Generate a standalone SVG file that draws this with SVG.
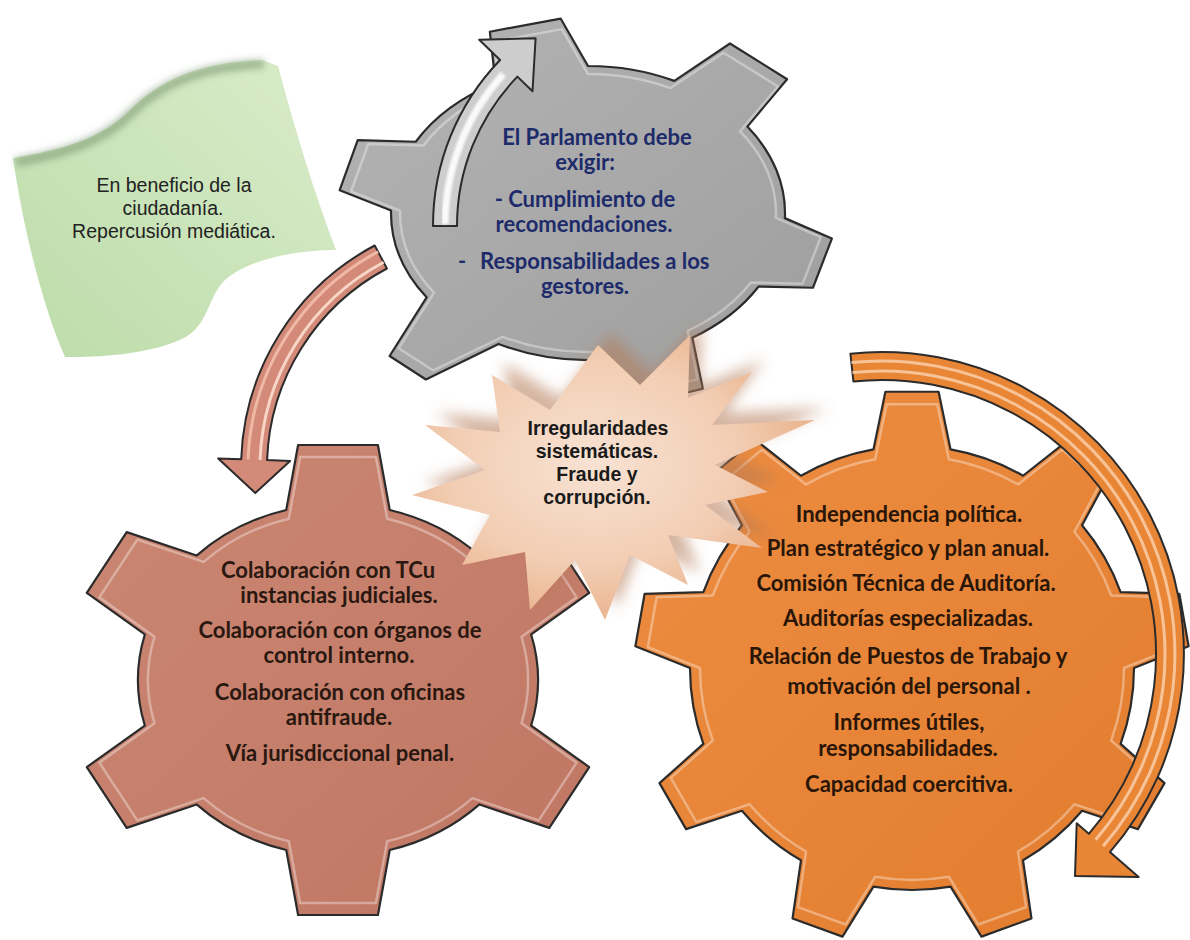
<svg xmlns="http://www.w3.org/2000/svg" xmlns:xlink="http://www.w3.org/1999/xlink" width="1190" height="940" viewBox="0 0 1190 940">
  <style>
    .gear { stroke: #2b2b2b; stroke-width: 2.2; stroke-linejoin: round; }
    .bevel { fill: none; stroke: #ffffff; stroke-width: 2.5; stroke-opacity: 0.35; stroke-linejoin: round; }
    .arrow { stroke: #2b2b2b; stroke-width: 2; stroke-linejoin: round; }
    .stripe { fill: none; stroke-linecap: butt; }
    .gt { font-family: Lato, "Open Sans", "DejaVu Sans", sans-serif; font-weight: 700; font-size: 22px; text-anchor: middle; fill: #1d2b6b; }
    .st { font-family: Lato, "Open Sans", "DejaVu Sans", sans-serif; font-weight: 700; font-size: 22px; text-anchor: middle; fill: #2a1810; }
    .ot { font-family: Lato, "Open Sans", "DejaVu Sans", sans-serif; font-weight: 700; font-size: 22px; text-anchor: middle; fill: #2a1608; }
    .bt { font-family: "Liberation Sans", Arial, sans-serif; font-weight: 700; font-size: 19.5px; text-anchor: middle; fill: #1a1a1a; }
    .ft { font-family: "Liberation Sans", Arial, sans-serif; font-size: 19.5px; text-anchor: middle; fill: #222222; }
  </style>
  <defs>
    <filter id="soft1" x="-5%" y="-5%" width="110%" height="110%"><feGaussianBlur stdDeviation="0.8"/></filter>
    <filter id="blur6" x="-20%" y="-20%" width="140%" height="140%"><feGaussianBlur stdDeviation="7"/></filter>
    <filter id="blur3" x="-20%" y="-20%" width="140%" height="140%"><feGaussianBlur stdDeviation="3.5"/></filter>
    <linearGradient id="fillGray" x1="0" y1="0" x2="1" y2="1">
      <stop offset="0" stop-color="#b4b4b4"/><stop offset="1" stop-color="#9d9d9d"/>
    </linearGradient>
    <linearGradient id="fillSalmon" x1="0" y1="0" x2="1" y2="1">
      <stop offset="0" stop-color="#cb8773"/><stop offset="1" stop-color="#bf7663"/>
    </linearGradient>
    <linearGradient id="fillOrange" x1="0" y1="0" x2="1" y2="1">
      <stop offset="0" stop-color="#ed8d42"/><stop offset="1" stop-color="#e27c2d"/>
    </linearGradient>
    <linearGradient id="fillFlag" x1="1" y1="0" x2="0" y2="1">
      <stop offset="0" stop-color="#d9ecca"/><stop offset="1" stop-color="#bddcaa"/>
    </linearGradient>
    <radialGradient id="fillBurst" cx="0.45" cy="0.45" r="0.6">
      <stop offset="0" stop-color="#f8e2d3"/><stop offset="0.6" stop-color="#f2cdb3"/><stop offset="1" stop-color="#e9ae86"/>
    </radialGradient>
    <!-- unit gear outlines: body radius 1, teeth outward -->
    <path id="gearGrayShape" vector-effect="non-scaling-stroke" d="M -0.4695 -0.8829 L -0.4982 -1.2332 L -0.139 -1.3227 L 0 -1 A 1 1 0 0 1 0.4384 -0.8988 L 0.7207 -1.1533 L 1.0106 -0.91 L 0.809 -0.5878 A 1 1 0 0 1 0.9994 0.0349 L 1.2379 0.174 L 1.1419 0.5084 L 0.866 0.5 A 1 1 0 0 1 0.5299 0.848 L 0.5831 1.1954 L 0.2309 1.3098 L 0.0698 0.9976 A 1 1 0 0 1 -0.454 0.891 L -0.8229 1.1326 L -1.007 0.9726 L -0.8192 0.5736 A 1 1 0 0 1 -0.9998 -0.0175 L -1.2605 -0.1548 L -1.169 -0.4962 L -0.8746 -0.4848 A 1 1 0 0 1 -0.4695 -0.8829 Z"/>
    <path id="gearSalmonShape" vector-effect="non-scaling-stroke" d="M -0.2588 -0.9659 L -0.1995 -1.3352 L 0.1995 -1.3352 L 0.2588 -0.9659 A 1 1 0 0 1 0.7071 -0.7071 L 1.0565 -0.8404 L 1.256 -0.4948 L 0.9659 -0.2588 A 1 1 0 0 1 0.9659 0.2588 L 1.256 0.4948 L 1.0565 0.8404 L 0.7071 0.7071 A 1 1 0 0 1 0.2588 0.9659 L 0.1995 1.3352 L -0.1995 1.3352 L -0.2588 0.9659 A 1 1 0 0 1 -0.7071 0.7071 L -1.0565 0.8404 L -1.256 0.4948 L -0.9659 0.2588 A 1 1 0 0 1 -0.9659 -0.2588 L -1.256 -0.4948 L -1.0565 -0.8404 L -0.7071 -0.7071 A 1 1 0 0 1 -0.2588 -0.9659 Z"/>
    <path id="gearOrangeShape" vector-effect="non-scaling-stroke" d="M -0.1736 -0.9848 L -0.1198 -1.2443 L 0.1198 -1.2443 L 0.1736 -0.9848 A 1 1 0 0 1 0.5 -0.866 L 0.708 -1.0301 L 0.8916 -0.8761 L 0.766 -0.6428 A 1 1 0 0 1 0.9397 -0.342 L 1.2045 -0.334 L 1.2461 -0.0981 L 1 0 A 1 1 0 0 1 0.9397 0.342 L 1.1375 0.5184 L 1.0176 0.7259 L 0.766 0.6428 A 1 1 0 0 1 0.5 0.866 L 0.5381 1.1283 L 0.313 1.2101 L 0.1736 0.9848 A 1 1 0 0 1 -0.1736 0.9848 L -0.313 1.2101 L -0.5381 1.1283 L -0.5 0.866 A 1 1 0 0 1 -0.766 0.6428 L -1.0176 0.7259 L -1.1375 0.5184 L -0.9397 0.342 A 1 1 0 0 1 -1 0 L -1.2461 -0.0981 L -1.2045 -0.334 L -0.9397 -0.342 A 1 1 0 0 1 -0.766 -0.6428 L -0.8916 -0.8761 L -0.708 -1.0301 L -0.5 -0.866 A 1 1 0 0 1 -0.1736 -0.9848 Z"/>
  </defs>

  <rect x="0" y="0" width="1190" height="940" fill="#ffffff"/>

  <!-- green banner -->
  <g id="node-ciudadania">
    <path d="M 13 158 C 60 150, 100 140, 130 110 C 160 80, 200 62, 262 60 L 278 66 C 295 130, 315 195, 336 250 C 300 250, 250 258, 225 280 C 205 300, 210 330, 175 342 C 140 355, 100 357, 65 357 C 40 300, 22 220, 13 158 Z" fill="url(#fillFlag)"/>
    <path d="M 16 162 C 60 154, 100 144, 130 114 C 160 84, 200 66, 264 64" fill="none" stroke="#6f8a66" stroke-width="9" stroke-opacity="0.55" filter="url(#blur3)"/>
    <text class="ft" x="174" y="192">En beneficio de la</text>
    <text class="ft" x="173" y="215">ciudadanía.</text>
    <text class="ft" x="174" y="238">Repercusión mediática.</text>
  </g>

  <!-- grey gear: Parliament -->
  <g id="node-parlamento">
    <use href="#gearGrayShape" class="gear" fill="url(#fillGray)" transform="translate(588 213) scale(197 147)"/>
    <use href="#gearGrayShape" class="bevel" transform="translate(588 213) scale(188 139)"/>
    <text class="gt" x="597" y="145">El Parlamento debe</text>
    <text class="gt" x="585" y="170">exigir:</text>
    <text class="gt" x="585" y="207">- Cumplimiento de</text>
    <text class="gt" x="584" y="232">recomendaciones.</text>
    <text class="gt" y="269" style="text-anchor:start"><tspan x="458">-</tspan><tspan x="480">Responsabilidades a los</tspan></text>
    <text class="gt" x="585" y="294">gestores.</text>
  </g>

  <!-- salmon gear: collaboration -->
  <g id="node-colaboracion">
    <use href="#gearSalmonShape" class="gear" fill="url(#fillSalmon)" transform="translate(338 680) scale(200 176)"/>
    <use href="#gearSalmonShape" class="bevel" transform="translate(338 680) scale(190 167)"/>
    <text class="st" x="328" y="578">Colaboración con TCu</text>
    <text class="st" x="339" y="603">instancias judiciales.</text>
    <text class="st" x="340" y="638">Colaboración con órganos de</text>
    <text class="st" x="339" y="663">control interno.</text>
    <text class="st" x="340" y="700">Colaboración con oficinas</text>
    <text class="st" x="339" y="725">antifraude.</text>
    <text class="st" x="340" y="761">Vía jurisdiccional penal.</text>
  </g>

  <!-- orange gear: audit office -->
  <g id="node-ocex">
    <use href="#gearOrangeShape" class="gear" fill="url(#fillOrange)" transform="translate(912 668) scale(222)"/>
    <use href="#gearOrangeShape" class="bevel" transform="translate(912 668) scale(212)"/>
    <text class="ot" x="909" y="522">Independencia política.</text>
    <text class="ot" x="908" y="556">Plan estratégico y plan anual.</text>
    <text class="ot" x="906" y="591">Comisión Técnica de Auditoría.</text>
    <text class="ot" x="908" y="626">Auditorías especializadas.</text>
    <text class="ot" x="908" y="664">Relación de Puestos de Trabajo y</text>
    <text class="ot" x="909" y="694">motivación del personal .</text>
    <text class="ot" x="909" y="730">Informes útiles,</text>
    <text class="ot" x="908" y="756">responsabilidades.</text>
    <text class="ot" x="909" y="792">Capacidad coercitiva.</text>
  </g>

  <!-- curved arrows -->
  <g id="connectors">
    <g id="arrow-gray">
      <path class="arrow" fill="#cdcdcd" d="M 433 226 A 239 239 0 0 1 500.1 60 L 479.2 39.8 L 535.6 38.3 L 532.5 91.2 L 517.4 76.6 A 215 215 0 0 0 457 226 Z"/>
      <path class="stripe" stroke="#ffffff" stroke-width="7" stroke-opacity="0.9" filter="url(#soft1)" d="M 445 224 A 227 227 0 0 1 503.3 74.1"/>
    </g>
    <g id="arrow-orange">
      <path class="arrow" fill="#e98636" d="M 850.4 353.7 A 302 302 0 0 1 1109.9 852.1 L 1138.6 877.1 L 1075 876 L 1076.7 823.3 L 1088.8 833.8 A 274 274 0 0 0 853.4 381.5 Z"/>
      <path class="stripe" stroke="#fbd2b0" stroke-width="3" stroke-opacity="0.8" d="M 852.4 372.6 A 283 283 0 0 1 1095.6 839.7"/>
      <path class="stripe" stroke="#fbd2b0" stroke-width="3" stroke-opacity="0.8" d="M 851.4 362.6 A 293 293 0 0 1 1103.1 846.2"/>
    </g>
    <g id="arrow-salmon">
      <path class="arrow" fill="#d48a78" d="M 374.7 245.5 A 252 252 0 0 0 241.2 459.2 L 218.2 458.4 L 255.3 493 L 290.1 460.9 L 267.1 460.1 A 226 226 0 0 1 386.9 268.5 Z"/>
      <path class="stripe" stroke="#f7d6c8" stroke-width="3" d="M 383.6 262.3 A 233 233 0 0 0 260.1 459.9"/>
      <path class="stripe" stroke="#f0b9a6" stroke-width="3" d="M 378 251.7 A 245 245 0 0 0 248.1 459.4"/>
    </g>
  </g>

  <!-- central burst -->
  <g id="node-irregularidades">
    <path d="M 598 345 L 640 385 L 690 335 L 688 398 L 752 372 L 712 425 L 815 420 L 715 465 L 768 492 L 705 505 L 762 548 L 668 535 L 688 585 L 630 555 L 605 620 L 575 560 L 530 610 L 525 552 L 462 565 L 490 515 L 412 495 L 485 470 L 425 425 L 500 432 L 492 375 L 550 410 Z" fill="#b57a55" fill-opacity="0.55" transform="translate(12 -12)" filter="url(#blur6)"/>
    <path d="M 598 345 L 640 385 L 690 335 L 688 398 L 752 372 L 712 425 L 815 420 L 715 465 L 768 492 L 705 505 L 762 548 L 668 535 L 688 585 L 630 555 L 605 620 L 575 560 L 530 610 L 525 552 L 462 565 L 490 515 L 412 495 L 485 470 L 425 425 L 500 432 L 492 375 L 550 410 Z" fill="url(#fillBurst)"/>
    <text class="bt" x="598" y="435">Irregularidades</text>
    <text class="bt" x="597" y="458">sistemáticas.</text>
    <text class="bt" x="597" y="481">Fraude y</text>
    <text class="bt" x="597" y="504">corrupción.</text>
  </g>
</svg>
